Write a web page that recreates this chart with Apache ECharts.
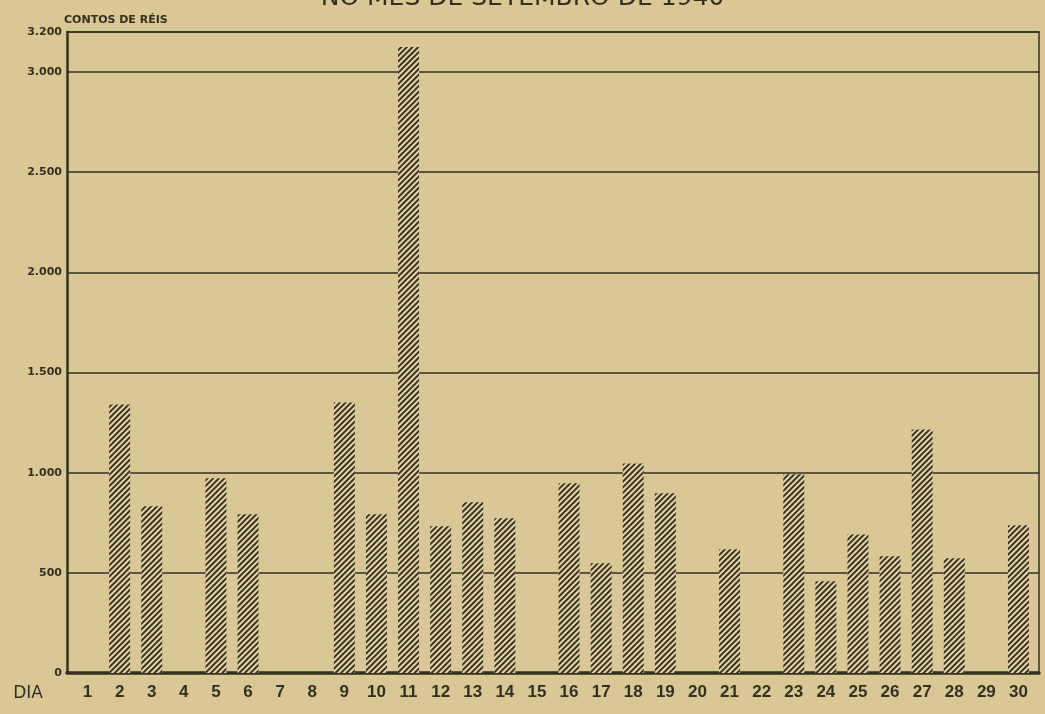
<!DOCTYPE html>
<html>
<head>
<meta charset="utf-8">
<script src="https://cdn.jsdelivr.net/npm/echarts@6/dist/echarts.min.js"></script>
<style>
html,body{margin:0;padding:0;background:#d9c795;}
#c{width:1045px;height:714px;}
</style>
</head>
<body>
<div id="c"></div>
<script>
var titleText = 'NO MÊS DE SETEMBRO DE 1940';
var yAxisName = 'CONTOS DE RÉIS';
var xAxisName = 'DIA';
var days = [1,2,3,4,5,6,7,8,9,10,11,12,13,14,15,16,17,18,19,20,21,22,23,24,25,26,27,28,29,30];
var values = [0,1340,832,0,972,792,0,0,1350,792,3125,732,852,772,0,947,548,1046,897,0,618,0,992,458,692,583,1216,573,0,737];
var yTicks = {min:0, max:3200, interval:500};

var ink = '#352f20';
var chart = echarts.init(document.getElementById('c'), null, {renderer:'canvas'});
var barData = days.map(function(d,i){ return [d, values[i]]; });

function fmt(v){ return String(v).replace(/\B(?=(\d{3})+(?!\d))/g,'.'); }

chart.setOption({
  backgroundColor:'#d9c795',
  animation:false,
  title:{
    text:titleText, left:'center', top:-14, padding:0,
    textStyle:{fontFamily:'DejaVu Sans', fontSize:25, fontWeight:'normal', color:ink}
  },
  grid:{left:67, right:6, top:32, bottom:41},
  xAxis:[{
    type:'value', min:0.36, max:30.64,
    name:xAxisName, nameLocation:'start', nameGap:24,
    nameTextStyle:{fontFamily:'DejaVu Sans', fontSize:17, color:ink, verticalAlign:'top', padding:[12,0,0,0]},
    axisLine:{show:true, lineStyle:{color:ink, width:3.5}},
    axisTick:{show:false},
    splitLine:{show:false},
    axisLabel:{customValues:days, margin:11, fontFamily:'Liberation Sans', fontSize:17, fontWeight:'bold', color:ink}
  },{
    type:'value', position:'top', min:0.36, max:30.64,
    axisLine:{show:true, onZero:false, lineStyle:{color:ink, width:1.5}},
    axisTick:{show:false}, axisLabel:{show:false}, splitLine:{show:false}
  }],
  yAxis:[{
    type:'value', min:yTicks.min, max:yTicks.max, interval:yTicks.interval,
    name:yAxisName, nameLocation:'end', nameGap:12,
    nameTextStyle:{fontFamily:'DejaVu Sans', fontSize:11, fontWeight:'bold', color:ink, align:'left', verticalAlign:'middle', padding:[0,0,0,-3]},
    axisLine:{show:true, lineStyle:{color:ink, width:2.5}},
    axisTick:{show:false},
    splitLine:{show:true, lineStyle:{color:ink, width:1.5}},
    axisLabel:{margin:5, fontFamily:'DejaVu Sans', fontSize:11, fontWeight:'bold', color:ink, formatter:fmt}
  },{
    type:'value', position:'right', min:yTicks.min, max:yTicks.max,
    axisLine:{show:true, lineStyle:{color:ink, width:1.5}},
    axisTick:{show:false}, axisLabel:{show:false}, splitLine:{show:false}
  }],
  series:[{
    type:'bar', xAxisIndex:0, yAxisIndex:0,
    data:barData, barWidth:21,
    itemStyle:{
      color:'#e4d6a8',
      decal:{symbol:'rect', symbolSize:1, dashArrayX:[1,0], dashArrayY:[1.1,1.5], rotation:-Math.PI/4, color:'#3b3424'}
    }
  }]
});
</script>
</body>
</html>
